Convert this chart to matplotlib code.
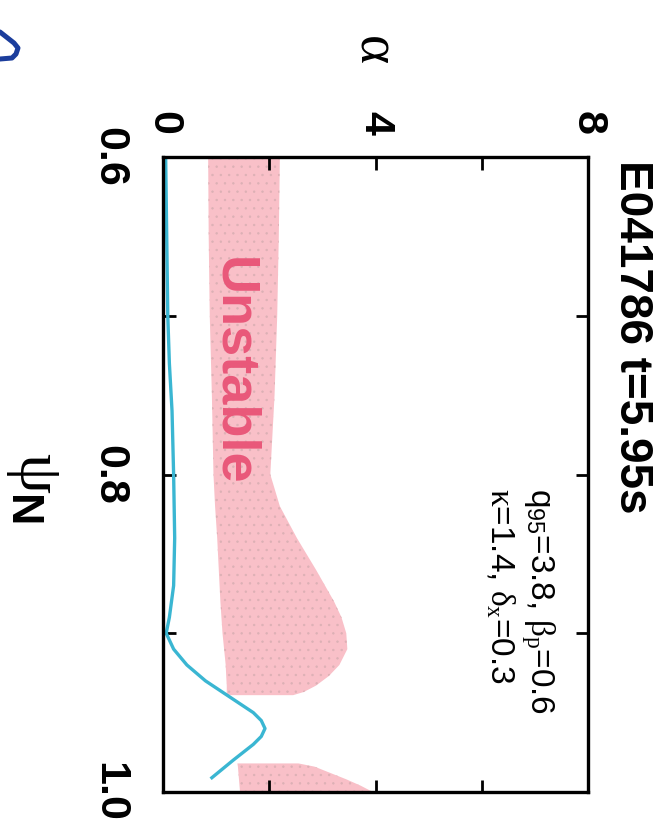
import numpy as np
import matplotlib
matplotlib.use('Agg')
import matplotlib.pyplot as plt
from matplotlib.lines import Line2D

plt.rcParams['font.family'] = ['Liberation Sans', 'DejaVu Sans']
plt.rcParams['mathtext.fontset'] = 'custom'
plt.rcParams['mathtext.rm'] = 'Liberation Sans'
plt.rcParams['mathtext.it'] = 'Liberation Serif'
plt.rcParams['mathtext.bf'] = 'Liberation Sans:bold'
plt.rcParams['hatch.linewidth'] = 0.5

# measured alpha profile (blue curve)
psi_prof = [0.60, 0.65, 0.70, 0.73, 0.76, 0.80, 0.84, 0.87, 0.89, 0.90, 0.91,
            0.92, 0.93, 0.94, 0.95, 0.955, 0.96, 0.965, 0.97, 0.98, 0.991]
alpha_prof = [0.05, 0.07, 0.09, 0.12, 0.17, 0.20, 0.22, 0.20, 0.12, 0.06, 0.20,
              0.45, 0.80, 1.25, 1.70, 1.85, 1.92, 1.85, 1.70, 1.32, 0.92]

# unstable region (upper band)
psi_unst1 = [0.60, 0.65, 0.70, 0.75, 0.80, 0.82, 0.84, 0.86, 0.88, 0.89, 0.90,
             0.91, 0.92, 0.927, 0.933, 0.937, 0.939]
unst1_lo = [0.85, 0.86, 0.88, 0.92, 0.95, 0.98, 1.02, 1.05, 1.08, 1.10, 1.12,
            1.15, 1.18, 1.19, 1.20, 1.20, 1.20]
unst1_hi = [2.20, 2.18, 2.15, 2.10, 2.02, 2.20, 2.52, 2.88, 3.22, 3.36, 3.45,
            3.47, 3.32, 3.12, 2.88, 2.65, 2.45]

# unstable region (edge)
psi_unst2 = [0.982, 0.984, 0.988, 0.992, 0.996, 1.000]
unst2_lo = [1.40, 1.41, 1.42, 1.43, 1.44, 1.45]
unst2_hi = [2.55, 2.85, 3.15, 3.45, 3.72, 3.95]

alpha_ticks = [0, 2, 4, 6, 8]
alpha_labels = ['0', '', '4', '', '8']
psi_ticks = [0.6, 0.7, 0.8, 0.9, 1.0]
psi_labels = ['0.6', '', '0.8', '', '1.0']

fig = plt.figure(figsize=(6.62, 8.34), dpi=100)
ax = fig.add_axes([163/662, 1 - 792/834, 425/662, 635/834])

pink = '#f9c0c8'
ax.fill_betweenx(psi_unst1, unst1_lo, unst1_hi, facecolor=pink,
                 edgecolor='#dcb0b5', hatch='..', linewidth=0)
ax.fill_betweenx(psi_unst2, unst2_lo, unst2_hi, facecolor=pink,
                 edgecolor='#dcb0b5', hatch='..', linewidth=0)
ax.plot(alpha_prof, psi_prof, color='#3ab6d2', lw=2.4)

ax.text(1.33, 0.735, 'Unstable', rotation=-90, ha='center', va='center',
        color='#e9587a', fontsize=39, fontweight='bold')

ax.set_xlim(0, 8)
ax.set_ylim(1.0, 0.6)
ax.set_xticks(alpha_ticks)
ax.set_xticklabels(alpha_labels)
ax.set_yticks(psi_ticks)
ax.set_yticklabels(psi_labels)
ax.tick_params(direction='in', length=9, width=2.0, top=True, bottom=True,
               left=True, right=True, labeltop=True, labelbottom=False,
               labelsize=31)
ax.tick_params(axis='x', pad=16)
ax.tick_params(axis='y', pad=24)
for lbl in ax.get_xticklabels():
    lbl.set_rotation(-90)
    lbl.set_fontweight('bold')
    lbl.set_va('bottom')
for lbl in ax.get_yticklabels():
    lbl.set_rotation(-90)
    lbl.set_fontweight('bold')
    lbl.set_va('center')
for s in ax.spines.values():
    s.set_linewidth(2.4)

ax.xaxis.set_label_position('top')
ax.set_xlabel(r'$\alpha$', fontsize=40, rotation=-90, va='center')
ax.xaxis.set_label_coords(0.5, (792 - 48) / 635)
ax.set_ylabel(r'$\psi_\mathbf{N}$', fontsize=46, rotation=-90, va='center', ha='center')
ax.yaxis.set_label_coords((34 - 163) / 425, (792 - 488) / 635)

ax.text((632 - 163) / 425, (792 - 160) / 635, 'E041786 t=5.95s', transform=ax.transAxes,
        rotation=-90, ha='center', va='top', fontsize=33, fontweight='bold')
ax.text(7.06, 0.8085, r'q$_{95}$=3.8, $\beta_{p}$=0.6', rotation=-90,
        ha='center', va='top', fontsize=24)
ax.text(6.34, 0.8085, r'$\kappa$=1.4, $\delta_{x}$=0.3', rotation=-90,
        ha='center', va='top', fontsize=24)

# fragment of neighbouring panel marker, top-left corner
frag_x = [0, 14, 18, 16, 12, 0]
frag_y = [32, 43, 48, 54, 58, 59]
fig.add_artist(Line2D([v / 662 for v in frag_x], [1 - v / 834 for v in frag_y],
                      transform=fig.transFigure, color='#1b3d9c', lw=3.6,
                      solid_joinstyle='round', solid_capstyle='round'))

fig.savefig('out.png', dpi=100)
